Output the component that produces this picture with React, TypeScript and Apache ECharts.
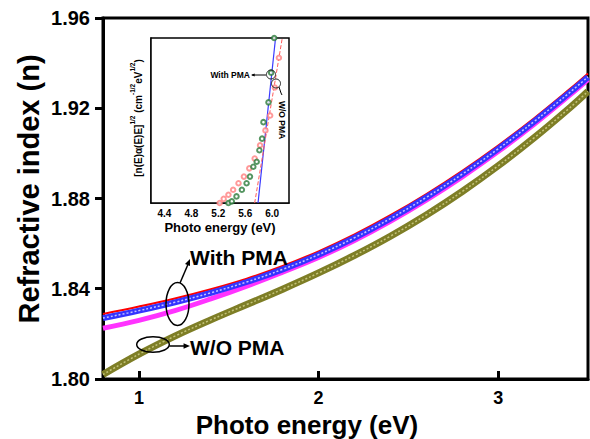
import React, { useEffect, useRef } from "react";
import * as echarts from "echarts";

// ---------- Main panel data ----------
const energy = [0.8, 1.0, 1.2, 1.4, 1.6, 1.8, 2.0, 2.2, 2.4, 2.6, 2.8, 3.0, 3.2, 3.4, 3.5];
const withPmaRed = [1.8288, 1.8321, 1.8357, 1.8398, 1.8445, 1.8501, 1.8566, 1.8641, 1.8726, 1.882, 1.8923, 1.9035, 1.9156, 1.9286, 1.9354];
const withPmaBlue = [1.827, 1.8303, 1.834, 1.8382, 1.843, 1.8486, 1.8551, 1.8626, 1.8711, 1.8805, 1.8908, 1.902, 1.9141, 1.9271, 1.9339];
const withPmaMagenta = [1.8225, 1.826, 1.8303, 1.8355, 1.8412, 1.8474, 1.8539, 1.8614, 1.8699, 1.8793, 1.8896, 1.9008, 1.9129, 1.9259, 1.9327];
const woPmaOlive = [1.802, 1.811, 1.819, 1.8262, 1.833, 1.8398, 1.847, 1.8548, 1.8633, 1.8727, 1.8831, 1.8945, 1.9069, 1.9203, 1.9275];
const xTicks = [1, 2, 3];
const yTicks = [1.8, 1.84, 1.88, 1.92, 1.96];

// ---------- Inset data ----------
const insetTicks = [4.4, 4.8, 5.2, 5.6, 6.0];
const insetRedE = [5.22, 5.28, 5.35, 5.42, 5.5, 5.58, 5.66, 5.74, 5.82, 5.9, 5.97, 6.04, 6.1];
const insetRedV = [0, 2.5, 5, 8, 12, 16, 21, 27, 35, 44, 53, 70, 88];
const insetGreenE = [5.35, 5.4, 5.47, 5.55, 5.62, 5.67, 5.72, 5.77, 5.81, 5.85, 5.87, 5.945, 5.985, 6.03];
const insetGreenV = [0, 1, 4, 8, 12, 16, 22, 25, 32, 39, 49, 61, 79, 100];
const fitBlueE = [5.79, 6.05];
const fitBlueV = [0, 100];
const fitRedE = [5.74, 6.15];
const fitRedV = [0, 100];

const FONT = "'Liberation Sans', Arial, sans-serif";

const zip = (a: number[], b: number[]) => a.map((v, i) => [v, b[i]]);

export default function App() {
  const ref = useRef<HTMLDivElement>(null);
  useEffect(() => {
    if (!ref.current) return;
    const chart = echarts.init(ref.current, null, { renderer: "svg" });
    const arrowHead = (x: number, y: number, ang: number, size = 6) => {
      const a1 = ang + Math.PI - 0.4;
      const a2 = ang + Math.PI + 0.4;
      return {
        type: "polygon",
        shape: {
          points: [
            [x, y],
            [x + size * Math.cos(a1), y + size * Math.sin(a1)],
            [x + size * Math.cos(a2), y + size * Math.sin(a2)],
          ],
        },
        style: { fill: "#000" },
        z: 100,
      };
    };
    const option: any = {
      animation: false,
      backgroundColor: "#fff",
      grid: [
        { left: 103, top: 18, width: 485, height: 361, show: true, borderColor: "#000", borderWidth: 3, backgroundColor: "transparent" },
        { left: 151, top: 38, width: 138, height: 165, show: true, borderColor: "#000", borderWidth: 1.5, backgroundColor: "#fff", z: 5 },
      ],
      xAxis: [
        {
          gridIndex: 0, type: "value", min: 0.8, max: 3.5,
          axisLine: { lineStyle: { color: "#000", width: 3 } },
          axisTick: { inside: true, length: 8, customValues: xTicks, lineStyle: { color: "#000", width: 3 } },
          axisLabel: { customValues: xTicks, margin: 10, color: "#000", fontSize: 18, fontWeight: "bold", fontFamily: FONT },
          splitLine: { show: false },
        },
        {
          gridIndex: 1, type: "value", min: 4.2, max: 6.25,
          axisLine: { lineStyle: { color: "#000", width: 1.5 } },
          axisTick: { inside: true, length: 3, customValues: insetTicks, lineStyle: { color: "#000", width: 1 } },
          axisLabel: { customValues: insetTicks, margin: 5, color: "#000", fontSize: 10, fontWeight: "bold", fontFamily: FONT, formatter: (v: number) => v.toFixed(1) },
          splitLine: { show: false },
        },
      ],
      yAxis: [
        {
          gridIndex: 0, type: "value", min: 1.8, max: 1.96,
          axisLine: { lineStyle: { color: "#000", width: 3 } },
          axisTick: { inside: false, length: 8, customValues: yTicks, lineStyle: { color: "#000", width: 3 } },
          axisLabel: { customValues: yTicks, margin: 13, color: "#000", fontSize: 20, fontWeight: "bold", fontFamily: FONT, formatter: (v: number) => v.toFixed(2) },
          splitLine: { show: false },
        },
        {
          gridIndex: 1, type: "value", min: 0, max: 100,
          axisLine: { lineStyle: { color: "#000", width: 1.5 } },
          axisTick: { show: false },
          axisLabel: { show: false },
          splitLine: { show: false },
        },
      ],
      series: [
        { name: "W/O PMA", type: "line", xAxisIndex: 0, yAxisIndex: 0, smooth: 0.4, symbol: "none", data: zip(energy, woPmaOlive), lineStyle: { color: "#7e7e26", width: 7 }, z: 2 },
        { name: "W/O PMA texture", type: "line", xAxisIndex: 0, yAxisIndex: 0, smooth: 0.4, symbol: "none", data: zip(energy, woPmaOlive), lineStyle: { color: "#c4c47a", width: 1.5, type: [2, 2] }, z: 3 },
        { name: "With PMA (magenta)", type: "line", xAxisIndex: 0, yAxisIndex: 0, smooth: 0.4, symbol: "none", data: zip(energy, withPmaMagenta), lineStyle: { color: "#ff33ff", width: 5 }, z: 2 },
        { name: "With PMA (red)", type: "line", xAxisIndex: 0, yAxisIndex: 0, smooth: 0.4, symbol: "none", data: zip(energy, withPmaRed), lineStyle: { color: "#ff0000", width: 2 }, z: 2 },
        { name: "With PMA (blue)", type: "line", xAxisIndex: 0, yAxisIndex: 0, smooth: 0.4, symbol: "none", data: zip(energy, withPmaBlue), lineStyle: { color: "#3434ff", width: 6 }, z: 3 },
        { name: "With PMA texture", type: "line", xAxisIndex: 0, yAxisIndex: 0, smooth: 0.4, symbol: "none", data: zip(energy, withPmaBlue), lineStyle: { color: "rgba(220,220,255,0.85)", width: 1.5, type: [2, 2] }, z: 4 },
        // inset
        { name: "fit blue", type: "line", xAxisIndex: 1, yAxisIndex: 1, symbol: "none", data: zip(fitBlueE, fitBlueV), lineStyle: { color: "#3a3aff", width: 1.2 }, z: 6 },
        { name: "fit red", type: "line", xAxisIndex: 1, yAxisIndex: 1, symbol: "none", data: zip(fitRedE, fitRedV), lineStyle: { color: "#ff5c5c", width: 1, type: [4, 2] }, z: 6 },
        { name: "inset W/O PMA", type: "scatter", xAxisIndex: 1, yAxisIndex: 1, symbol: "emptyCircle", symbolSize: 4.5, data: zip(insetRedE, insetRedV), itemStyle: { color: "#ff8080", borderColor: "#ff8080", borderWidth: 1 }, z: 7 },
        { name: "inset With PMA", type: "scatter", xAxisIndex: 1, yAxisIndex: 1, symbol: "emptyCircle", symbolSize: 4.5, data: zip(insetGreenE, insetGreenV), itemStyle: { color: "#2a7a3a", borderColor: "#2a7a3a", borderWidth: 1.2 }, z: 8 },
      ],
      graphic: [
        // main titles
        { type: "text", x: 307, y: 425, style: { text: "Photo energy (eV)", font: `bold 26px ${FONT}`, fill: "#000", align: "center", verticalAlign: "middle" }, z: 100 },
        { type: "text", x: 29, y: 189, rotation: Math.PI / 2, style: { text: "Refractive index (n)", font: `bold 29px ${FONT}`, fill: "#000", align: "center", verticalAlign: "middle" }, z: 100 },
        // inset titles
        { type: "text", x: 220, y: 227, style: { text: "Photo energy (eV)", font: `bold 13px ${FONT}`, fill: "#000", align: "center", verticalAlign: "middle" }, z: 100 },
        {
          type: "text", x: 136, y: 118, rotation: Math.PI / 2,
          style: {
            text: "{b|[n(E)α(E)E]}{s|1/2}{b| (cm}{s|-1/2}{b|eV}{s|1/2}{b|)}",
            align: "center", verticalAlign: "middle", fill: "#000",
            rich: {
              b: { fontSize: 10, fontWeight: "bold", fontFamily: FONT, lineHeight: 14, verticalAlign: "bottom", fill: "#000" },
              s: { fontSize: 6.5, fontWeight: "bold", fontFamily: FONT, lineHeight: 14, verticalAlign: "top", fill: "#000" },
            },
          },
          z: 100,
        },
        // inset annotations
        { type: "text", x: 250, y: 75, style: { text: "With PMA", font: `bold 8.5px ${FONT}`, fill: "#000", align: "right", verticalAlign: "middle" }, z: 100 },
        { type: "line", shape: { x1: 252, y1: 75, x2: 266, y2: 75 }, style: { stroke: "#000", lineWidth: 1 }, z: 100 },
        arrowHead(251, 75, Math.PI, 4),
        { type: "circle", shape: { cx: 271, cy: 74.5, r: 4.5 }, style: { fill: "none", stroke: "#222", lineWidth: 1 }, z: 100 },
        { type: "circle", shape: { cx: 276, cy: 83.5, r: 4.5 }, style: { fill: "none", stroke: "#222", lineWidth: 1 }, z: 100 },
        { type: "polyline", shape: { points: [[279, 87], [281, 93], [282, 95]] }, style: { stroke: "#000", lineWidth: 1, fill: "none" }, z: 100 },
        { type: "text", x: 282, y: 120, rotation: -Math.PI / 2, style: { text: "W/O PMA", font: `bold 8.5px ${FONT}`, fill: "#000", align: "center", verticalAlign: "middle" }, z: 100 },
        // main annotations
        { type: "ellipse", shape: { cx: 177.5, cy: 304, rx: 11.5, ry: 21.5 }, style: { fill: "none", stroke: "#000", lineWidth: 1.5 }, z: 100 },
        { type: "line", shape: { x1: 180, y1: 283, x2: 189, y2: 262 }, style: { stroke: "#000", lineWidth: 1.5 }, z: 100 },
        arrowHead(190, 259, Math.atan2(259 - 283, 190 - 180), 7),
        { type: "text", x: 190, y: 257, style: { text: "With PMA", font: `bold 21px ${FONT}`, fill: "#000", align: "left", verticalAlign: "middle" }, z: 100 },
        { type: "ellipse", shape: { cx: 153, cy: 344.5, rx: 16.3, ry: 7.8 }, style: { fill: "none", stroke: "#000", lineWidth: 1.5 }, z: 100 },
        { type: "line", shape: { x1: 169.3, y1: 346, x2: 186, y2: 346 }, style: { stroke: "#000", lineWidth: 1.5 }, z: 100 },
        arrowHead(190, 346, 0, 7),
        { type: "text", x: 190, y: 347, style: { text: "W/O PMA", font: `bold 21px ${FONT}`, fill: "#000", align: "left", verticalAlign: "middle" }, z: 100 },
      ],
    };
    chart.setOption(option);
    return () => chart.dispose();
  }, []);
  return <div ref={ref} style={{ position: "fixed", left: 0, top: 0, width: 590, height: 439 }} />;
}
